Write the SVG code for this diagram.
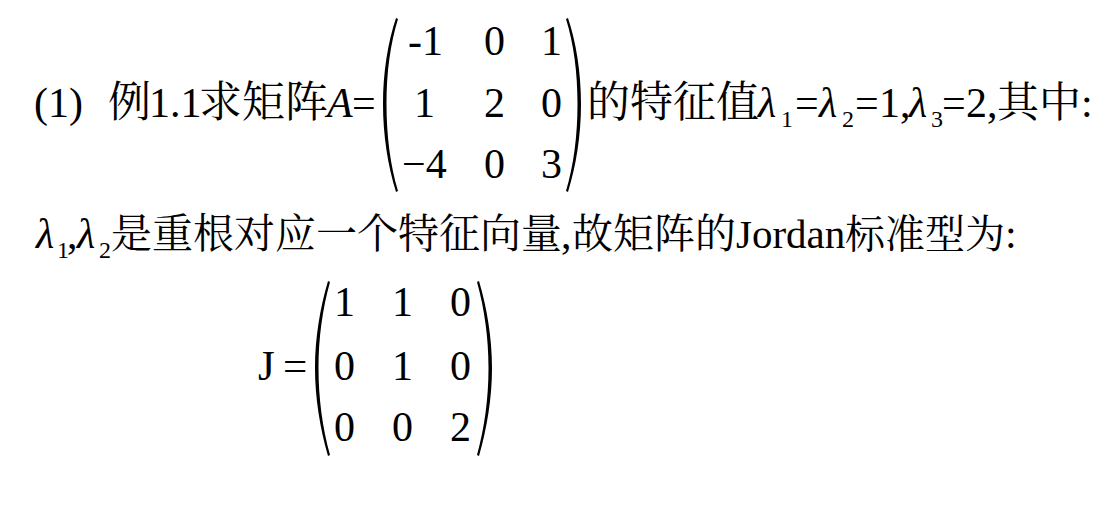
<svg xmlns="http://www.w3.org/2000/svg" width="1095" height="522" viewBox="0 0 1095 522">
<style>
.t{font-family:"Liberation Serif","Noto Serif CJK SC","Noto Sans CJK SC",serif;font-size:42px;fill:#000}
.c{font-size:43px}
.c2{font-size:41px}
.c3{font-size:40px}
.i{font-style:italic}
.l{font-style:italic;font-size:42px}
.s{font-size:24px}
.m{font-size:43px}
.p{fill:#000}
</style>
<rect width="1095" height="522" fill="#fff"/>
<g id="line1">
<text class="t" y="117"><tspan x="34">(1)</tspan><tspan class="c" x="108">例</tspan><tspan x="149">1.1</tspan><tspan class="c" x="199">求矩阵</tspan><tspan class="i" x="327">A</tspan><tspan x="352">=</tspan></text>
</g>
<g id="matrixA">
<path class="p" d="M396,18 C388,42 383,72 383,104 C383,136 388,166 396,192 L398,191 C390.5,166 386.5,136 386.5,104 C386.5,72 390.5,43 398,19 Z"/>
<path class="p" d="M568,18 C576,42 581,72 581,104 C581,136 576,166 568,192 L566,191 C573.5,166 577.5,136 577.5,104 C577.5,72 573.5,43 566,19 Z"/>
<text class="t" x="408" y="55">-1</text>
<text class="t" x="484" y="55">0</text>
<text class="t" x="541" y="55">1</text>
<text class="t" x="414" y="117">1</text>
<text class="t" x="484" y="117">2</text>
<text class="t" x="541" y="117">0</text>
<text class="t" x="402" y="178">−4</text>
<text class="t" x="484" y="178">0</text>
<text class="t" x="541" y="178">3</text>
</g>
<g id="line1b">
<text class="t" y="117"><tspan class="c" x="587">的特征值</tspan><tspan class="l" x="758">λ</tspan><tspan class="s" x="781" y="127">1</tspan><tspan x="795" y="117">=</tspan><tspan class="l" x="819">λ</tspan><tspan class="s" x="842" y="127">2</tspan><tspan x="855" y="117">=</tspan><tspan x="879">1,</tspan><tspan class="l" x="909">λ</tspan><tspan class="s" x="931" y="127">3</tspan><tspan x="942" y="117">=</tspan><tspan x="966">2</tspan><tspan x="987">,</tspan><tspan x="997">其中</tspan><tspan x="1081">:</tspan></text>
</g>
<g id="line2">
<text class="t" y="248"><tspan class="l" x="36">λ</tspan><tspan class="s" x="57" y="258">1</tspan><tspan x="67" y="248">,</tspan><tspan class="l" x="77">λ</tspan><tspan class="s" x="99" y="258">2</tspan><tspan class="c2" x="111" y="248">是重根对应一个特征向量</tspan><tspan x="561">,</tspan><tspan class="c2" x="572">故矩阵的</tspan><tspan class="c2" x="736">Jordan</tspan><tspan class="c3" x="845">标准型为</tspan><tspan x="1005">:</tspan></text>
</g>
<g id="matrixJ">
<text class="t m" y="380"><tspan x="258">J</tspan><tspan x="283">=</tspan></text>
<path class="p" d="M328,281 C320,308 315,338 315,368 C315,398 320,428 328,456 L330,455 C322.5,428 318.5,398 318.5,368 C318.5,338 322.5,309 330,282 Z"/>
<path class="p" d="M479,281 C487,308 492,338 492,368 C492,398 487,428 479,456 L477,455 C484.5,428 488.5,398 488.5,368 C488.5,338 484.5,309 477,282 Z"/>
<text class="t" x="334" y="316">1</text>
<text class="t" x="392" y="316">1</text>
<text class="t" x="450" y="316">0</text>
<text class="t" x="334" y="380">0</text>
<text class="t" x="392" y="380">1</text>
<text class="t" x="450" y="380">0</text>
<text class="t" x="334" y="441">0</text>
<text class="t" x="392" y="441">0</text>
<text class="t" x="450" y="441">2</text>
</g>
</svg>
